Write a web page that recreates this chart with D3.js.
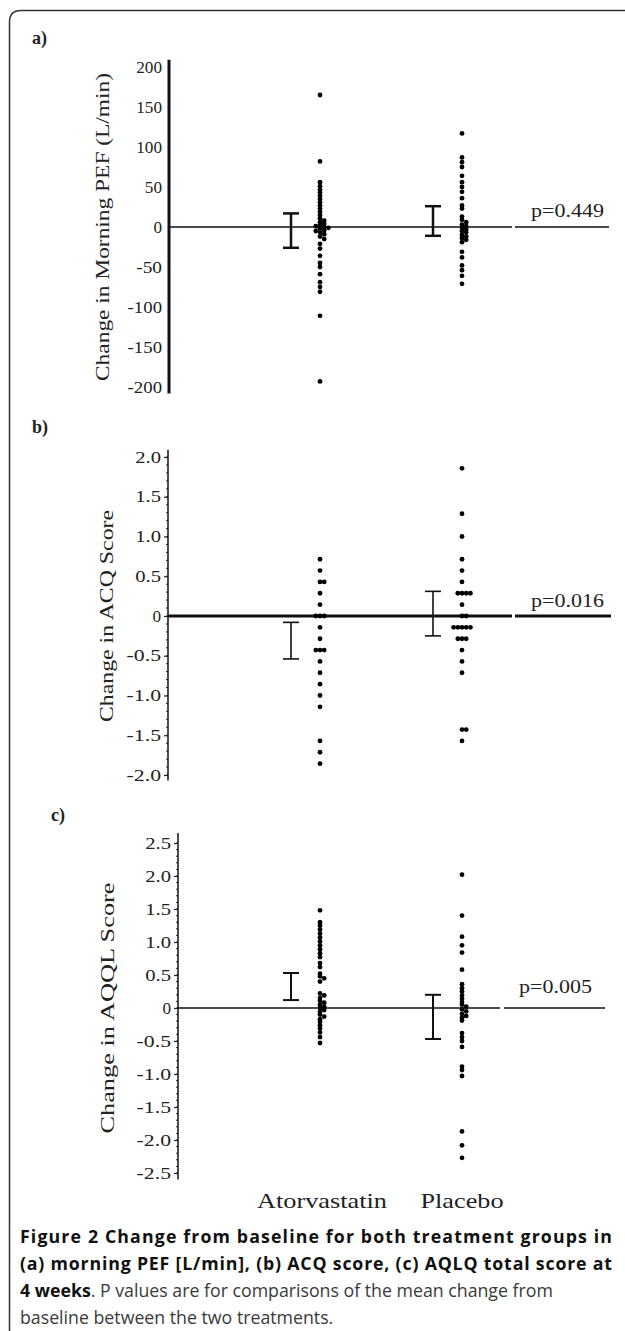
<!DOCTYPE html>
<html>
<head>
<meta charset="utf-8">
<script src="https://cdn.jsdelivr.net/npm/d3@7"></script>
<style>
  html, body { margin: 0; padding: 0; background: #fff; }
  svg { display: block; }
  .serif { font-family: 'Liberation Serif', 'DejaVu Serif', serif; fill: #222; }
  .caption { font-family: 'Open Sans', sans-serif; fill: #1a1a1a; }
</style>
</head>
<body>
<script>
const width = 625;
const height = 1331;

const categories = ['Atorvastatin', 'Placebo'];

// (a) morning PEF, L/min
const pefTicks = [200, 150, 100, 50, 0, -50, -100, -150, -200];
const pefAtorvastatin = [165, 82, 56, 51, 47, 43, 39, 35, 31, 27, 23, 19, 15, 11, 8, 6, 4, 2, 1, 0, -1, -2, -4,
  -5, -7, -9, -12, -15, -21, -27, -36, -45, -50, -59, -69, -75, -81, -111, -193];
const pefPlacebo = [117, 87, 81, 75, 64, 56, 50, 44, 36, 27, 23, 13, 9, 6, 3, 1, -1, -3, -5, -7, -10, -12, -14,
  -16, -19, -31, -38, -48, -54, -61, -71];
const pefErrorBars = [[-26, 17], [-11, 26]];

// (b) ACQ score (steps of 1/7)
const acqTicks = [2, 1.5, 1, 0.5, 0, -0.5, -1, -1.5, -2];
const acqAtorvastatin = [0.714, 0.571, 0.429, 0.429, 0.286, 0.143, 0, 0, 0, -0.143, -0.286, -0.429, -0.429,
  -0.429, -0.571, -0.714, -0.857, -1.0, -1.143, -1.571, -1.714, -1.857];
const acqPlacebo = [1.857, 1.286, 1.0, 0.714, 0.571, 0.429, 0.286, 0.286, 0.286, 0.286, 0.143, 0, 0, -0.143,
  -0.143, -0.143, -0.143, -0.143, -0.286, -0.286, -0.286, -0.429, -0.571, -0.714, -1.429, -1.429, -1.571];
const acqErrorBars = [[-0.54, -0.08], [-0.25, 0.31]];

// (c) AQLQ score
const aqlTicks = [2.5, 2, 1.5, 1, 0.5, 0, -0.5, -1, -1.5, -2, -2.5];
const aqlAtorvastatin = [1.48, 1.30, 1.25, 1.19, 1.13, 1.07, 1.01, 0.95, 0.89, 0.83, 0.77, 0.68, 0.62, 0.52,
  0.48, 0.45, 0.40, 0.22, 0.19, 0.15, 0.11, 0.08, 0.05, 0.02, 0.0, -0.03, -0.06, -0.10, -0.13, -0.17, -0.21,
  -0.26, -0.31, -0.37, -0.44, -0.53];
const aqlPlacebo = [2.02, 1.40, 1.08, 0.95, 0.84, 0.58, 0.36, 0.30, 0.25, 0.19, 0.14, 0.09, 0.05, 0.02, -0.02,
  -0.05, -0.09, -0.12, -0.15, -0.19, -0.38, -0.44, -0.50, -0.59, -0.89, -0.94, -1.03, -1.87, -2.08, -2.27];
const aqlErrorBars = [[0.12, 0.53], [-0.47, 0.2]];

const pLabels = ['p=0.449', 'p=0.016', 'p=0.005'];
const panelLabels = ['a)', 'b)', 'c)'];
const axisTitles = ['Change in Morning PEF (L/min)', 'Change in ACQ Score', 'Change in AQQL Score'];

const captionLines = [
  [['Figure 2 Change from baseline for both treatment groups in', true]],
  [['(a) morning PEF [L/min], (b) ACQ score, (c) AQLQ total score at', true]],
  [['4 weeks', true], ['. P values are for comparisons of the mean change from', false]],
  [['baseline between the two treatments.', false]],
];

const fmtInt = (d) => String(d);
const fmtDec = (d) => d === 0 ? '0' : d.toFixed(1);

const panels = [
  { values: [pefAtorvastatin, pefPlacebo], bars: pefErrorBars, ticks: pefTicks, domain: [-200, 200],
    range: [387, 67], ext: [-208, 209], axisX: 169, axisWidth: 3, minor: 0, tickSize: 0, tickPad: 7,
    format: fmtInt, zeroWidth: 1.5, errWidth: 2.5, zeroEnd: [512, 515, 609], pX: 531, pY: 217,
    label: [32, 44], titleX: 102, titleLen: 308 },
  { values: [acqAtorvastatin, acqPlacebo], bars: acqErrorBars, ticks: acqTicks, domain: [-2, 2],
    range: [775, 457], ext: [-2.07, 2.09], axisX: 168, axisWidth: 1.5, minor: 40, tickSize: 4, tickPad: 3,
    format: fmtDec, zeroWidth: 3, errWidth: 1.6, zeroEnd: [512, 515, 611], pX: 531, pY: 607,
    label: [32, 433], titleX: 106, titleLen: 212 },
  { values: [aqlAtorvastatin, aqlPlacebo], bars: aqlErrorBars, ticks: aqlTicks, domain: [-2.5, 2.5],
    range: [1173, 843], ext: [-2.6, 2.65], axisX: 178, axisWidth: 1.5, minor: 50, tickSize: 4, tickPad: 3,
    format: fmtDec, zeroWidth: 1.5, errWidth: 2, zeroEnd: [500, 504, 605], pX: 519, pY: 993,
    label: [51, 821], titleX: 107, titleLen: 251 },
];

const x = d3.scalePoint().domain(categories).range([320, 462]);
const barOffset = -29;
const dotRadius = 2.4;

const svg = d3.select('body')
  .append('svg')
    .attr('width', width)
    .attr('height', height)
    .attr('viewBox', [0, 0, width, height].join(' '));

// frame
svg.append('path')
  .attr('d', `M9.5,${height} V22 Q9.5,10.5 21,10.5 H${width}`)
  .attr('fill', 'none')
  .attr('stroke', '#333')
  .attr('stroke-width', 1.5);

// simple dodge so tied / close values sit side by side
const dodge = (values, y, cx, step, minDist) => {
  const placed = [];
  return values.slice().sort((a, b) => b - a).map((v) => {
    const cy = y(v);
    let px = cx;
    for (let i = 0; ; i++) {
      const off = i === 0 ? 0 : Math.ceil(i / 2) * step * (i % 2 ? 1 : -1);
      px = cx + off;
      if (!placed.some((q) => Math.hypot(q.x - px, q.y - cy) < minDist)) break;
    }
    placed.push({ x: px, y: cy });
    return { x: px, y: cy, v };
  });
};

panels.forEach((p, pi) => {
  const y = d3.scaleLinear().domain(p.domain).range(p.range);
  const g = svg.append('g').attr('class', 'panel');

  // panel letter
  g.append('text')
    .attr('class', 'serif')
    .attr('x', p.label[0])
    .attr('y', p.label[1])
    .attr('font-weight', 700)
    .style('font-size', '18px')
    .text(panelLabels[pi]);

  // axis title
  const cy = (p.range[0] + p.range[1]) / 2;
  g.append('text')
    .attr('class', 'serif')
    .attr('transform', `translate(${p.titleX},${cy}) rotate(-90)`)
    .attr('text-anchor', 'middle')
    .attr('dy', '0.35em')
    .attr('textLength', p.titleLen)
    .attr('lengthAdjust', 'spacingAndGlyphs')
    .style('font-size', '19px')
    .text(axisTitles[pi]);

  // y axis
  const axis = d3.axisLeft(y)
    .tickValues(p.ticks)
    .tickSize(p.tickSize)
    .tickPadding(p.tickPad)
    .tickFormat(p.format);

  const ag = g.append('g')
    .attr('transform', `translate(${p.axisX},0)`)
    .call(axis)
    .attr('font-family', null)
    .attr('font-size', null);

  ag.select('.domain').remove();
  ag.selectAll('.tick line').attr('stroke', '#222').attr('stroke-width', 1.2);
  ag.selectAll('.tick text')
    .attr('class', 'serif')
    .attr('fill', '#222')
    .style('font-size', '16px')
    .attr('textLength', (d) => p.format(d).length * 8.6)
    .attr('lengthAdjust', 'spacingAndGlyphs');

  if (p.minor) {
    ag.selectAll('line.minor')
      .data(y.ticks(p.minor))
      .join('line')
        .attr('class', 'minor')
        .attr('x1', -2)
        .attr('x2', 0)
        .attr('y1', (d) => y(d))
        .attr('y2', (d) => y(d))
        .attr('stroke', '#333')
        .attr('stroke-width', 1);
  }

  ag.append('line')
    .attr('y1', y(p.ext[0]))
    .attr('y2', y(p.ext[1]))
    .attr('stroke', '#111')
    .attr('stroke-width', p.axisWidth);

  // zero line (two segments with a small gap)
  g.append('line')
    .attr('x1', p.axisX).attr('x2', p.zeroEnd[0])
    .attr('y1', y(0)).attr('y2', y(0))
    .attr('stroke', '#111').attr('stroke-width', p.zeroWidth);
  g.append('line')
    .attr('x1', p.zeroEnd[1]).attr('x2', p.zeroEnd[2])
    .attr('y1', y(0)).attr('y2', y(0))
    .attr('stroke', '#111').attr('stroke-width', p.zeroWidth);

  // p value
  g.append('text')
    .attr('class', 'serif')
    .attr('x', p.pX)
    .attr('y', p.pY)
    .attr('textLength', 73)
    .attr('lengthAdjust', 'spacingAndGlyphs')
    .style('font-size', '18px')
    .attr('fill', '#333')
    .text(pLabels[pi]);

  // error bars
  const eb = g.selectAll('g.errbar')
    .data(p.bars)
    .join('g')
      .attr('class', 'errbar')
      .attr('transform', (d, i) => `translate(${x(categories[i]) + barOffset},0)`)
      .attr('stroke', '#111')
      .attr('stroke-width', p.errWidth);
  eb.append('line').attr('y1', (d) => y(d[0])).attr('y2', (d) => y(d[1]));
  eb.append('line').attr('x1', -8).attr('x2', 8).attr('y1', (d) => y(d[0])).attr('y2', (d) => y(d[0]));
  eb.append('line').attr('x1', -8).attr('x2', 8).attr('y1', (d) => y(d[1])).attr('y2', (d) => y(d[1]));

  // dots
  p.values.forEach((vals, ci) => {
    g.append('g')
      .selectAll('circle')
      .data(dodge(vals, y, x(categories[ci]), 4.2, 2.6))
      .join('circle')
        .attr('cx', (d) => d.x)
        .attr('cy', (d) => d.y)
        .attr('r', dotRadius)
        .attr('fill', '#000');
  });
});

// category labels
svg.append('g')
  .selectAll('text')
  .data(categories)
  .join('text')
    .attr('class', 'serif')
    .attr('x', (d) => x(d) + (d === 'Atorvastatin' ? 2 : 0))
    .attr('y', 1208)
    .attr('text-anchor', 'middle')
    .attr('textLength', (d) => d === 'Atorvastatin' ? 130 : 83)
    .attr('lengthAdjust', 'spacingAndGlyphs')
    .style('font-size', '21px')
    .text((d) => d);

// caption: lines 1-2 are justified, the rest sized so line 3 ends where the original does
const cap = svg.append('g').attr('class', 'caption').style('font-size', '18px');
const rows = captionLines.map((line, li) => {
  const t = cap.append('text')
    .attr('x', 20)
    .attr('y', 1243 + li * 27);
  line.forEach(([s, bold]) => {
    t.append('tspan')
      .attr('font-weight', bold ? 700 : 400)
      .attr('fill', bold ? '#111' : '#3a3a3a')
      .text(s);
  });
  return t;
});
const fit = 533 / rows[2].node().getComputedTextLength();
cap.style('font-size', `${(18 * fit).toFixed(2)}px`);
rows.slice(0, 2).forEach((t) => {
  t.attr('textLength', 592).attr('lengthAdjust', 'spacing');
});
</script>
</body>
</html>
